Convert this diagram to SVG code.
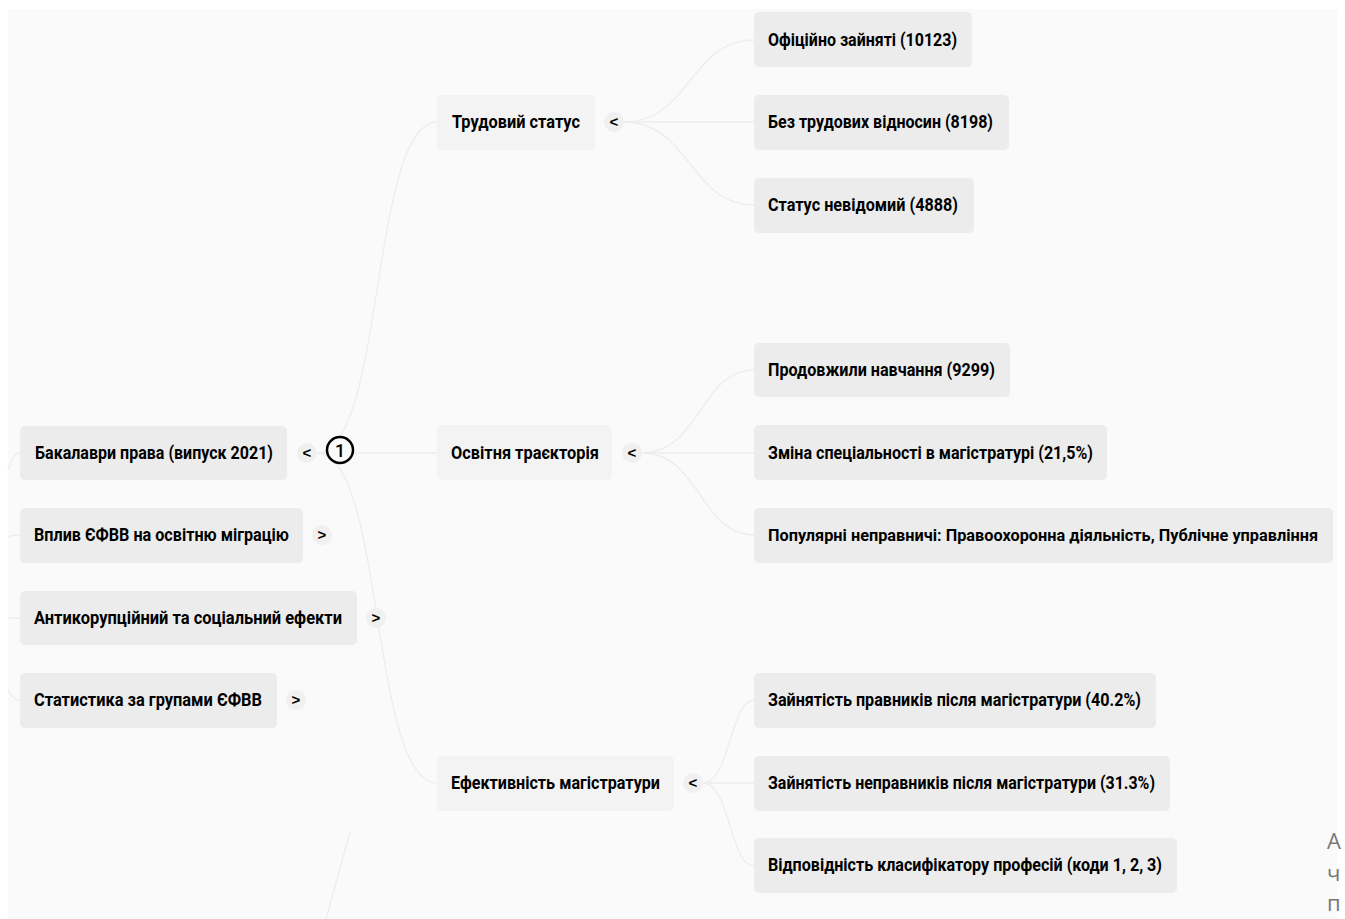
<svg xmlns="http://www.w3.org/2000/svg" width="1345" height="919" viewBox="0 0 1345 919">
<style>
.bg{fill:#fafafa}
.n rect{fill:#ececec}
.m rect{fill:#f3f3f3}
.t{font-family:Roboto,"Liberation Sans",sans-serif;font-size:18px;font-weight:700;fill:#000}
.tg circle{fill:#f0f0f0}
.tg text{font-family:"Liberation Sans",sans-serif;font-size:15px;font-weight:700;fill:#000;text-anchor:middle}
.e path{fill:none;stroke:#ededed;stroke-width:1.3}
.side{font-family:"Open Sans","Noto Sans",sans-serif;font-size:22px;fill:#777}
</style>
<rect width="1345" height="919" fill="#ffffff"/>
<rect class="bg" x="8" y="9" width="1329" height="910"/>

<g id="connectors" class="e">
<path d="M8,470 C12,458 15,453 20,453"/>
<path d="M8,537 C12,535 15,535 20,535"/>
<path d="M8,618 L20,618"/>
<path d="M8,690 C12,697 15,700 20,700"/>
<path d="M317,453 C385,453 370,122 437,122"/>
<path d="M317,453 L437,453"/>
<path d="M317,453 C385,453 370,783 437,783"/>
<path d="M624,122 C690,122 690,40 754,40"/>
<path d="M624,122 L754,122"/>
<path d="M624,122 C690,122 690,205 754,205"/>
<path d="M642,453 C700,453 700,370 754,370"/>
<path d="M642,453 L754,453"/>
<path d="M642,453 C700,453 700,535 754,535"/>
<path d="M703,783 C730,783 730,700 754,700"/>
<path d="M703,783 L754,783"/>
<path d="M703,783 C730,783 730,866 754,866"/>
<path d="M350,832 L326,919"/>
</g>

<g id="root" class="n">
<rect x="20" y="426" width="267" height="54" rx="5"/>
<text class="t" x="35" y="459" textLength="238" lengthAdjust="spacingAndGlyphs">Бакалаври права (випуск 2021)</text>
<g class="tg"><circle cx="307" cy="453" r="10"/><text x="307" y="458">&lt;</text></g>
<circle cx="340" cy="450" r="13" fill="#fafafa" stroke="#000" stroke-width="2.5"/>
<text x="340" y="457" font-family="Roboto,'Liberation Sans',sans-serif" font-size="18" font-weight="500" text-anchor="middle" fill="#000">1</text>
</g>

<g id="vplyv" class="n">
<rect x="20" y="508" width="283" height="55" rx="5"/>
<text class="t" x="34" y="541" textLength="255" lengthAdjust="spacingAndGlyphs">Вплив ЄФВВ на освітню міграцію</text>
<g class="tg"><circle cx="322" cy="535" r="10"/><text x="322" y="540">&gt;</text></g>
</g>

<g id="anti" class="n">
<rect x="20" y="591" width="337" height="54" rx="5"/>
<text class="t" x="34" y="624" textLength="308" lengthAdjust="spacingAndGlyphs">Антикорупційний та соціальний ефекти</text>
<g class="tg"><circle cx="376" cy="618" r="10"/><text x="376" y="623">&gt;</text></g>
</g>

<g id="stat" class="n">
<rect x="20" y="673" width="257" height="55" rx="5"/>
<text class="t" x="34" y="706" textLength="228" lengthAdjust="spacingAndGlyphs">Статистика за групами ЄФВВ</text>
<g class="tg"><circle cx="296" cy="700" r="10"/><text x="296" y="705">&gt;</text></g>
</g>

<g id="trud" class="m">
<rect x="437" y="95" width="158" height="55" rx="5"/>
<text class="t" x="452" y="128" textLength="128" lengthAdjust="spacingAndGlyphs">Трудовий статус</text>
<g class="tg"><circle cx="614" cy="122" r="10"/><text x="614" y="127">&lt;</text></g>
</g>

<g id="osvita" class="m">
<rect x="437" y="425" width="175" height="55" rx="5"/>
<text class="t" x="451" y="459" textLength="148" lengthAdjust="spacingAndGlyphs">Освітня траєкторія</text>
<g class="tg"><circle cx="632" cy="453" r="10"/><text x="632" y="458">&lt;</text></g>
</g>

<g id="efekt" class="m">
<rect x="437" y="756" width="237" height="55" rx="5"/>
<text class="t" x="451" y="789" textLength="209" lengthAdjust="spacingAndGlyphs">Ефективність магістратури</text>
<g class="tg"><circle cx="693" cy="783" r="10"/><text x="693" y="788">&lt;</text></g>
</g>

<g id="c1" class="n"><rect x="754" y="12" width="218" height="55" rx="5"/>
<text class="t" x="768" y="46" textLength="189" lengthAdjust="spacingAndGlyphs">Офіційно зайняті (10123)</text></g>
<g id="c2" class="n"><rect x="754" y="95" width="255" height="55" rx="5"/>
<text class="t" x="768" y="128" textLength="225" lengthAdjust="spacingAndGlyphs">Без трудових відносин (8198)</text></g>
<g id="c3" class="n"><rect x="754" y="178" width="220" height="55" rx="5"/>
<text class="t" x="768" y="211" textLength="190" lengthAdjust="spacingAndGlyphs">Статус невідомий (4888)</text></g>

<g id="c4" class="n"><rect x="754" y="343" width="256" height="54" rx="5"/>
<text class="t" x="768" y="376" textLength="227" lengthAdjust="spacingAndGlyphs">Продовжили навчання (9299)</text></g>
<g id="c5" class="n"><rect x="754" y="425" width="353" height="55" rx="5"/>
<text class="t" x="768" y="459" textLength="325" lengthAdjust="spacingAndGlyphs">Зміна спеціальності в магістратурі (21,5%)</text></g>
<g id="c6" class="n"><rect x="754" y="508" width="579" height="55" rx="5"/>
<text class="t" x="768" y="541" font-size="16" textLength="550" lengthAdjust="spacingAndGlyphs" style="font-size:16px">Популярні неправничі: Правоохоронна діяльність, Публічне управління</text></g>

<g id="c7" class="n"><rect x="754" y="673" width="402" height="55" rx="5"/>
<text class="t" x="768" y="706" textLength="373" lengthAdjust="spacingAndGlyphs">Зайнятість правників після магістратури (40.2%)</text></g>
<g id="c8" class="n"><rect x="754" y="756" width="416" height="55" rx="5"/>
<text class="t" x="768" y="789" textLength="387" lengthAdjust="spacingAndGlyphs">Зайнятість неправників після магістратури (31.3%)</text></g>
<g id="c9" class="n"><rect x="754" y="838" width="423" height="55" rx="5"/>
<text class="t" x="768" y="871" textLength="394" lengthAdjust="spacingAndGlyphs">Відповідність класифікатору професій (коди 1, 2, 3)</text></g>

<text class="side" x="1327" y="849">А</text>
<text class="side" x="1327" y="881">ч</text>
<text class="side" x="1327" y="911">п</text>
</svg>
